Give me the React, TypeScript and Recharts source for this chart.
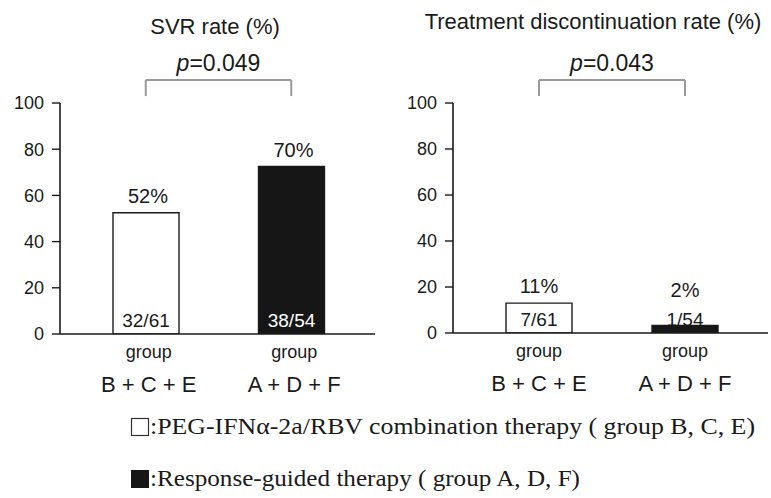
import React from 'react';
import { BarChart, Bar, XAxis, YAxis, Cell, LabelList, ReferenceLine } from 'recharts';

// ---------- data ----------
const groups = ['B + C + E', 'A + D + F'];
const groupPrefix = 'group';
const yTicks = [0, 20, 40, 60, 80, 100];

const svrValues = [52.5, 72.5];
const svrPct = ['52%', '70%'];
const svrCounts = ['32/61', '38/54'];
const svrP = '0.049';

const discValues = [13, 3.3];
const discPct = ['11%', '2%'];
const discCounts = ['7/61', '1/54'];
const discP = '0.043';

const bracketTop = 110;
const bracketFoot = 103;

const titles = ['SVR rate (%)', 'Treatment discontinuation rate (%)'];
const legendTexts = [
  ':PEG-IFN\u03b1-2a/RBV combination therapy ( group B, C, E)',
  ':Response-guided therapy ( group A, D, F)',
];

// ---------- styles ----------
const INK = '#1a1a1a';
const BAR_FILLS = ['#ffffff', '#161616'];
const SANS = '"Liberation Sans", Arial, Helvetica, sans-serif';
const SERIF = '"Liberation Serif", "Times New Roman", serif';
const BRACKET = '#9a9a9a';

type Row = { group: string; value: number; pct: string; count: string };

const buildRows = (values: number[], pct: string[], counts: string[]): Row[] =>
  groups.map((g, i) => ({ group: g, value: values[i], pct: pct[i], count: counts[i] }));

const makeTick = (dx: number) => (props: any) => {
  const { x, y, payload } = props;
  return (
    <g>
      <text x={x + dx} y={y + 24} textAnchor="middle" fontFamily={SANS} fontSize={18} fill={INK}>
        {groupPrefix}
      </text>
      <text x={x + dx} y={y + 58} textAnchor="middle" fontFamily={SANS} fontSize={22} fill={INK}>
        {payload.value}
      </text>
    </g>
  );
};

const makePctLabel = (dx: number) => (props: any) => {
  const { x, y, width, height, value } = props;
  const axisY = y + height;
  const ly = Math.min(y - 10, axisY - 36);
  return (
    <text x={x + width / 2 + dx} y={ly} textAnchor="middle" fontFamily={SANS} fontSize={20} fill={INK}>
      {value}
    </text>
  );
};

const countLabel = (props: any) => {
  const { x, y, width, height, value, index } = props;
  const axisY = y + height;
  const dark = index === 1 && height > 24;
  return (
    <text
      x={x + width / 2}
      y={axisY - 7}
      textAnchor="middle"
      fontFamily={SANS}
      fontSize={19}
      fill={dark ? '#ffffff' : INK}
    >
      {value}
    </text>
  );
};

const makePLabel = (p: string) => (props: any) => {
  const vb = props.viewBox || {};
  const cx = (vb.x || 0) + (vb.width || 0) / 2;
  const cy = (vb.y || 0) - 9;
  return (
    <text x={cx} y={cy} textAnchor="middle" fontFamily={SANS} fontSize={23} fill={INK}>
      <tspan fontStyle="italic">p</tspan>
      <tspan>={p}</tspan>
    </text>
  );
};

type PanelProps = {
  rows: Row[];
  p: string;
  width: number;
  height: number;
  marginLeft: number;
  marginRight: number;
  padLeft: number;
  padRight: number;
  tickDx: number;
  pctDx: number;
};

function Panel({ rows, p, width, height, marginLeft, marginRight, padLeft, padRight, tickDx, pctDx }: PanelProps) {
  return (
    <BarChart
      width={width}
      height={height}
      data={rows}
      margin={{ top: 103, right: marginRight, left: marginLeft, bottom: 0 }}
      barSize={66}
    >
      <XAxis
        dataKey="group"
        type="category"
        height={66}
        padding={{ left: padLeft, right: padRight }}
        tickLine={false}
        tickSize={0}
        tickMargin={0}
        axisLine={{ stroke: INK, strokeWidth: 1.6 }}
        tick={makeTick(tickDx)}
        interval={0}
      />
      <YAxis
        type="number"
        domain={[0, 100]}
        ticks={yTicks}
        width={50}
        tickSize={8}
        tickMargin={8}
        axisLine={{ stroke: INK, strokeWidth: 1.6 }}
        tickLine={{ stroke: INK, strokeWidth: 1.4 }}
        tick={{ fill: INK, fontSize: 18, fontFamily: SANS }}
        allowDataOverflow
      />
      <ReferenceLine
        segment={[{ x: groups[0], y: bracketFoot }, { x: groups[0], y: bracketTop }]}
        stroke={BRACKET}
        strokeWidth={2}
        ifOverflow="visible"
      />
      <ReferenceLine
        segment={[{ x: groups[1], y: bracketFoot }, { x: groups[1], y: bracketTop }]}
        stroke={BRACKET}
        strokeWidth={2}
        ifOverflow="visible"
      />
      <ReferenceLine
        segment={[{ x: groups[0], y: bracketTop }, { x: groups[1], y: bracketTop }]}
        stroke={BRACKET}
        strokeWidth={2}
        ifOverflow="visible"
        label={makePLabel(p)}
      />
      <Bar dataKey="value" isAnimationActive={false} stroke={INK} strokeWidth={1.4}>
        {rows.map((r, i) => (
          <Cell key={r.group} fill={BAR_FILLS[i]} />
        ))}
        <LabelList dataKey="pct" content={makePctLabel(pctDx)} />
        <LabelList dataKey="count" content={countLabel} />
      </Bar>
    </BarChart>
  );
}

export default function App() {
  const svrRows = buildRows(svrValues, svrPct, svrCounts);
  const discRows = buildRows(discValues, discPct, discCounts);
  return (
    <div
      style={{
        position: 'absolute',
        left: 0,
        top: 0,
        width: 771,
        height: 498,
        background: '#ffffff',
        overflow: 'hidden',
      }}
    >
      <div style={{ position: 'absolute', left: 0, top: 0 }}>
        <Panel
          rows={svrRows}
          p={svrP}
          width={390}
          height={400}
          marginLeft={10}
          marginRight={15}
          padLeft={13}
          padRight={11}
          tickDx={3}
          pctDx={2}
        />
      </div>
      <div style={{ position: 'absolute', left: 390, top: 0 }}>
        <Panel
          rows={discRows}
          p={discP}
          width={381}
          height={399}
          marginLeft={13}
          marginRight={3}
          padLeft={13}
          padRight={10}
          tickDx={0}
          pctDx={0}
        />
      </div>
      <svg
        width={771}
        height={498}
        style={{ position: 'absolute', left: 0, top: 0, pointerEvents: 'none' }}
      >
        <text x={215} y={34} textAnchor="middle" fontFamily={SANS} fontSize={22} fill={INK}>
          {titles[0]}
        </text>
        <text x={593} y={29} textAnchor="middle" fontFamily={SANS} fontSize={22} fill={INK}>
          {titles[1]}
        </text>
        <rect x={131.5} y={418.5} width={17} height={17} fill="#ffffff" stroke="#333" strokeWidth={1.2} />
        <text
          x={150}
          y={434}
          fontFamily={SERIF}
          fontSize={24}
          fill={INK}
          textLength={605}
          lengthAdjust="spacingAndGlyphs"
        >
          {legendTexts[0]}
        </text>
        <rect x={131} y={470} width={18} height={18} fill={BAR_FILLS[1]} />
        <text
          x={150}
          y={486}
          fontFamily={SERIF}
          fontSize={24}
          fill={INK}
          textLength={430}
          lengthAdjust="spacingAndGlyphs"
        >
          {legendTexts[1]}
        </text>
      </svg>
    </div>
  );
}
